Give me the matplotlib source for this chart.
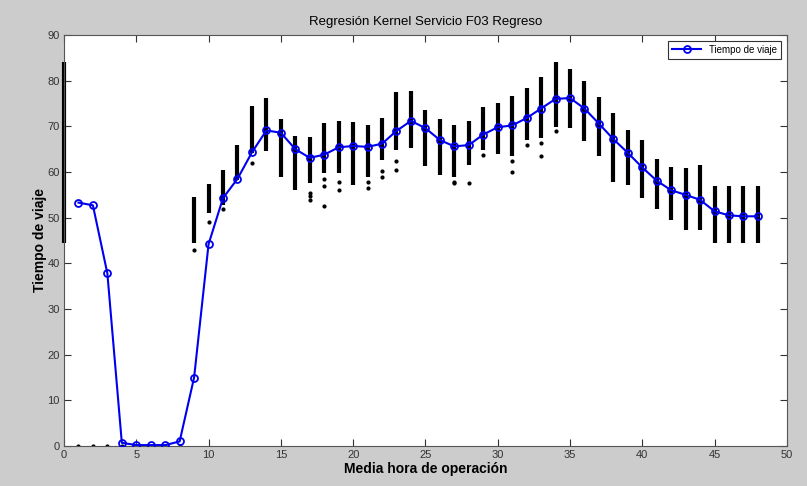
import numpy as np
import matplotlib
matplotlib.use("Agg")
import matplotlib.pyplot as plt

plt.rcParams['font.family'] = ['Liberation Sans', 'DejaVu Sans']

# kernel regression curve (travel time per half hour)
hours = list(range(1, 49))
travel_time = [53.3, 52.7, 37.8, 0.7, 0.2, 0.2, 0.2, 1.0, 15.0, 44.2,
               54.3, 58.5, 64.3, 69.1, 68.6, 65.0, 63.1, 63.8, 65.4, 65.7,
               65.5, 66.2, 69.0, 71.2, 69.6, 67.0, 65.6, 65.9, 68.2, 69.8,
               70.2, 71.8, 73.9, 76.0, 76.2, 73.9, 70.6, 67.2, 64.2, 61.0,
               58.1, 56.0, 55.0, 53.9, 51.4, 50.5, 50.3, 50.3]

# spread of the observed samples in each half hour (dense columns)
col_x = [0] + list(range(9, 49))
col_lo = [44.5, 44.4, 51.1, 52.8, 58.2, 64.1, 64.5, 59.0, 56.0, 57.5, 59.8,
          59.8, 57.1, 59.0, 62.6, 64.8, 65.2, 61.3, 59.3, 59.0, 61.5,
          64.8, 63.9, 63.4, 67.0, 67.4, 69.8, 69.6, 66.8, 63.4, 57.7,
          57.1, 54.3, 51.8, 49.4, 47.3, 47.3, 44.4, 44.4, 44.4, 44.4]
col_hi = [84.0, 54.5, 57.3, 60.4, 66.0, 74.4, 76.1, 71.5, 67.9, 67.6, 70.7,
          71.2, 71.0, 70.2, 71.8, 77.6, 77.7, 73.6, 71.6, 70.2, 71.2,
          74.3, 75.2, 76.7, 78.5, 80.7, 84.1, 82.5, 80.0, 76.5, 73.0,
          69.3, 67.0, 62.8, 61.2, 60.8, 61.5, 56.9, 56.9, 56.9, 56.9]

# isolated samples
out_x = [1, 2, 3, 4, 5, 6, 7, 8, 9, 10, 11, 13, 17, 17, 17, 18, 18, 18,
         19, 19, 21, 21, 22, 22, 23, 23, 27, 27, 28, 29, 31, 31, 32, 33, 33, 34]
out_y = [0, 0, 0, 0, 0, 0, 0, 0, 42.9, 49.0, 52.0, 61.9, 55.5, 54.7, 53.9,
         58.4, 57.0, 52.6, 57.9, 56.0, 57.9, 56.5, 60.2, 59.0, 62.4, 60.4,
         57.9, 57.5, 57.5, 63.7, 62.5, 60.1, 65.9, 66.4, 63.5, 69.0]

fig = plt.figure(figsize=(8.07, 4.86), dpi=100)
fig.patch.set_facecolor('#cccccc')
ax = fig.add_axes([0.0793, 0.0823, 0.8957, 0.8457])

ax.vlines(col_x, col_lo, col_hi, color='black', linewidth=3.0, zorder=2,
          clip_on=False)
ax.plot(out_x, out_y, linestyle='none', marker='.', color='black',
        markersize=4, zorder=2)
ax.plot(hours, travel_time, color='#0000ee', linewidth=1.5, marker='o',
        markersize=5, markerfacecolor='none', markeredgewidth=1.3,
        label='Tiempo de viaje', zorder=3)

ax.set_xlim(0, 50)
ax.set_ylim(0, 90)
ax.set_xticks(np.arange(0, 51, 5))
ax.set_yticks(np.arange(0, 91, 10))
ax.tick_params(direction='in', top=True, right=True, length=5, width=0.8,
               colors='#333333', labelsize=8, pad=3)
for s in ax.spines.values():
    s.set_color('#555555')
    s.set_linewidth(0.8)

ax.set_title('Regresión Kernel Servicio F03 Regreso', fontsize=9.5, pad=7)
ax.set_xlabel('Media hora de operación', fontsize=10, fontweight='bold',
              labelpad=1)
ax.set_ylabel('Tiempo de viaje', fontsize=10, fontweight='bold', labelpad=0)

leg = ax.legend(loc='upper right', fontsize=7, fancybox=False,
                borderpad=0.4, handlelength=3, framealpha=1,
                borderaxespad=0.6)
leg.get_frame().set_edgecolor('#333333')
leg.get_frame().set_linewidth(0.8)

fig.savefig('out.png', dpi=100, facecolor=fig.get_facecolor())
